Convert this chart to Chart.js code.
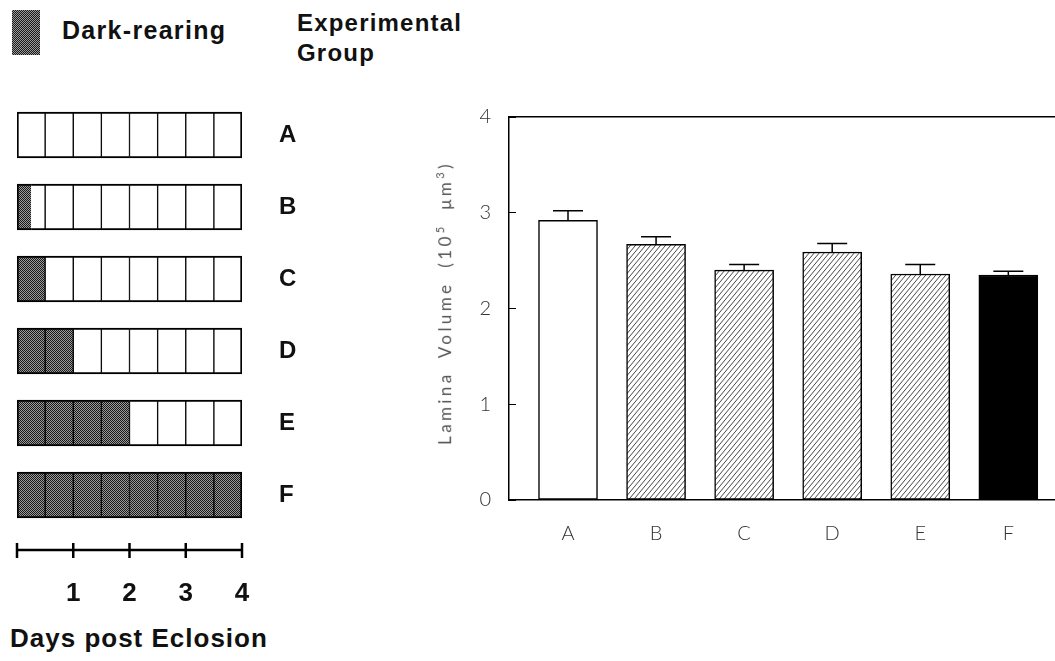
<!DOCTYPE html>
<html>
<head>
<meta charset="utf-8">
<script src="https://cdn.jsdelivr.net/npm/chart.js@4.4.1/dist/chart.umd.min.js"></script>
<style>
  html, body { margin: 0; padding: 0; background: #fff; }
  body { width: 1055px; height: 661px; position: relative; overflow: hidden; font-family: "Liberation Sans", Arial, sans-serif; }
  .lbl { position: absolute; font-weight: bold; color: #111; white-space: nowrap; }
  #legendBox { position: absolute; left: 12px; top: 10px; width: 28px; height: 45px;
    background: repeating-conic-gradient(#1a1a1a 0 25%, #9a9a9a 0 50%) 0 0 / 2px 2px; }
  #leftWrap { position: absolute; left: 0; top: 0; width: 420px; height: 661px; }
  #rightWrap { position: absolute; left: 420px; top: 0; width: 635px; height: 661px; }
  #yTitle { position: absolute; left: 444px; top: 303px; transform: translate(-50%, -50%) rotate(-90deg);
    font-family: Lato, "Liberation Sans", sans-serif; font-weight: 400; font-size: 17px; color: #555;
    letter-spacing: 3.4px; word-spacing: 6px; white-space: nowrap; }
  #yTitle sup { font-size: 11px; }
</style>
</head>
<body>
<div id="legendBox"></div>
<div class="lbl" style="left:62px; top:16px; font-size:25px; letter-spacing:1.3px;">Dark-rearing</div>
<div class="lbl" style="left:297px; top:8px; font-size:24px; letter-spacing:1.2px; line-height:30px;">Experimental<br>Group</div>
<div class="lbl" style="left:10px; top:623px; font-size:26px; letter-spacing:1px;">Days post Eclosion</div>

<div id="leftWrap"><canvas id="rearingChart"></canvas></div>
<div id="rightWrap"><canvas id="volumeChart"></canvas></div>
<div id="yTitle">Lamina Volume (10<sup>5</sup> μm<sup>3</sup>)</div>

<script>
const groups = ['A', 'B', 'C', 'D', 'E', 'F'];
// days of dark-rearing after eclosion, per group
const darkDays = [0, 0.25, 0.5, 1, 2, 4];
const totalDays = 4;
const cellDays = 0.5;
const dayTicks = [0, 1, 2, 3, 4];

// lamina volume (10^5 um^3) and SEM
const volume = [2.92, 2.67, 2.40, 2.59, 2.36, 2.35];
const volumeErr = [0.10, 0.08, 0.06, 0.09, 0.10, 0.04];
const yTicks = [0, 1, 2, 3, 4];

// patterns
function makeStipple() {
    const c = document.createElement('canvas');
    c.width = 2; c.height = 2;
    const g = c.getContext('2d');
    g.fillStyle = '#9a9a9a'; g.fillRect(0, 0, 2, 2);
    g.fillStyle = '#1a1a1a'; g.fillRect(0, 0, 1, 1); g.fillRect(1, 1, 1, 1);
    return g.createPattern(c, 'repeat');
}
function makeHatch() {
    const w = 5, h = 6;
    const c = document.createElement('canvas');
    c.width = w; c.height = h;
    const g = c.getContext('2d');
    g.fillStyle = '#fff'; g.fillRect(0, 0, w, h);
    g.strokeStyle = '#333'; g.lineWidth = 0.9;
    for (const off of [-w, 0, w]) {
        g.beginPath(); g.moveTo(off, h); g.lineTo(off + w, 0); g.stroke();
    }
    return g.createPattern(c, 'repeat');
}
const stipple = makeStipple();
const hatch = makeHatch();

// ---------- LEFT: rearing schedule ----------
const cellCount = totalDays / cellDays;
const rearingSets = [];
for (let k = 0; k < cellCount; k++) {
    const dark = darkDays.map(d => Math.min(Math.max(d - k * cellDays, 0), cellDays));
    const light = dark.map(v => cellDays - v);
    const outerL = k === 0 ? 2 : 1;
    const outerR = k === cellCount - 1 ? 2 : 1;
    rearingSets.push({
        data: dark,
        backgroundColor: stipple,
        borderColor: '#000',
        borderSkipped: false,
        borderWidth: ctx => ({ top: 2, bottom: 2, left: outerL, right: light[ctx.dataIndex] === 0 ? outerR : 0 })
    });
    rearingSets.push({
        data: light,
        backgroundColor: '#fff',
        borderColor: '#000',
        borderSkipped: false,
        borderWidth: ctx => ({ top: 2, bottom: 2, left: dark[ctx.dataIndex] === 0 ? outerL : 0, right: outerR })
    });
}

const scaleBar = {
    id: 'scaleBar',
    afterDraw(chart) {
        const ctx = chart.ctx;
        const x = chart.scales.x;
        const yLine = 550;
        ctx.save();
        ctx.strokeStyle = '#000';
        ctx.lineWidth = 2.5;
        ctx.beginPath();
        ctx.moveTo(x.getPixelForValue(0), yLine);
        ctx.lineTo(x.getPixelForValue(totalDays), yLine);
        dayTicks.forEach(d => {
            const px = x.getPixelForValue(d);
            ctx.moveTo(px, yLine - 7);
            ctx.lineTo(px, yLine + 8);
        });
        ctx.stroke();
        ctx.fillStyle = '#111';
        ctx.font = 'bold 26px "Liberation Sans", Arial, sans-serif';
        ctx.textAlign = 'center';
        ctx.textBaseline = 'middle';
        dayTicks.filter(d => d > 0).forEach(d => ctx.fillText(String(d), x.getPixelForValue(d), 594));
        ctx.restore();
    }
};

new Chart(document.getElementById('rearingChart'), {
    type: 'bar',
    data: { labels: groups, datasets: rearingSets },
    options: {
        indexAxis: 'y',
        responsive: true,
        maintainAspectRatio: false,
        animation: false,
        events: [],
        layout: { padding: { left: 17, top: 99, bottom: 130, right: 0 } },
        plugins: { legend: { display: false }, tooltip: { enabled: false } },
        datasets: { bar: { barThickness: 46 } },
        scales: {
            x: { type: 'linear', min: 0, max: totalDays, stacked: true, display: false },
            y: {
                stacked: true,
                position: 'right',
                grid: { display: false, drawTicks: false },
                border: { display: false },
                ticks: { color: '#111', padding: 37, font: { family: '"Liberation Sans", Arial, sans-serif', size: 24, weight: 'bold' } },
                afterFit: s => { s.width = 178; }
            }
        }
    },
    plugins: [scaleBar]
});

// ---------- RIGHT: lamina volume ----------
const barFills = ['#fff', hatch, hatch, hatch, hatch, '#000'];

const errorBars = {
    id: 'errorBars',
    afterDatasetsDraw(chart) {
        const ctx = chart.ctx;
        const x = chart.scales.x, y = chart.scales.y;
        ctx.save();
        ctx.strokeStyle = '#000';
        ctx.lineWidth = 1.5;
        volume.forEach((v, i) => {
            const px = x.getPixelForValue(i);
            const y0 = y.getPixelForValue(v);
            const y1 = y.getPixelForValue(v + volumeErr[i]);
            ctx.beginPath();
            ctx.moveTo(px, y0); ctx.lineTo(px, y1);
            ctx.moveTo(px - 15, y1); ctx.lineTo(px + 15, y1);
            ctx.stroke();
        });
        ctx.restore();
    }
};

const thinFont = { family: 'Lato, "Liberation Sans", sans-serif', size: 20, weight: 300 };

new Chart(document.getElementById('volumeChart'), {
    type: 'bar',
    data: {
        datasets: [{
            data: volume.map((v, i) => ({ x: i, y: v })),
            backgroundColor: barFills,
            borderColor: '#000',
            borderWidth: 1.5,
            borderSkipped: false,
            barThickness: 59
        }]
    },
    options: {
        responsive: true,
        maintainAspectRatio: false,
        animation: false,
        events: [],
        layout: { padding: { left: 0, top: 117, bottom: 0, right: 0 } },
        plugins: { legend: { display: false }, tooltip: { enabled: false } },
        scales: {
            x: {
                type: 'linear',
                offset: false,
                min: -0.67,
                max: 5.53,
                grid: { display: false, drawTicks: false, offset: false },
                border: { display: true, color: '#000', width: 1.5 },
                afterBuildTicks: s => { s.ticks = groups.map((_, i) => ({ value: i })); },
                ticks: { color: '#333', padding: 22, font: thinFont, callback: v => groups[v] },
                afterFit: s => { s.height = 161; }
            },
            x2: {
                type: 'linear',
                position: 'top',
                grid: { display: false, drawTicks: false },
                ticks: { display: false },
                border: { display: true, color: '#000', width: 1.5 },
                afterFit: s => { s.height = 0; }
            },
            y: {
                min: 0,
                max: 4,
                afterBuildTicks: s => { s.ticks = yTicks.map(v => ({ value: v })); },
                grid: { drawOnChartArea: false, drawTicks: true, tickLength: -7, color: '#000', lineWidth: 1 },
                border: { display: true, color: '#000', width: 1.5 },
                ticks: { color: '#333', padding: 25, font: thinFont },
                afterFit: s => { s.width = 89; }
            }
        }
    },
    plugins: [errorBars]
});
</script>
</body>
</html>
